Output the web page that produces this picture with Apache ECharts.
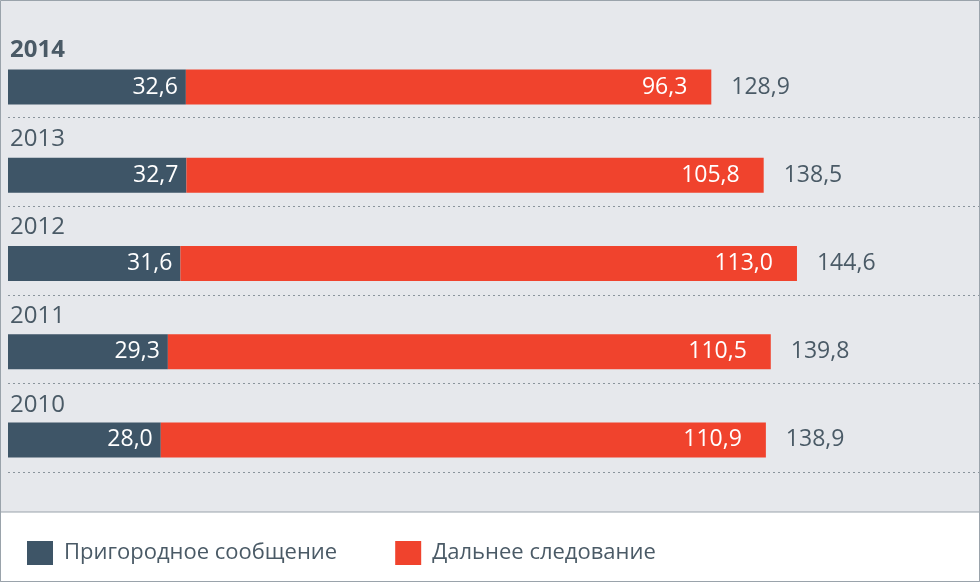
<!DOCTYPE html><html><head><meta charset="utf-8"><script src="https://cdn.jsdelivr.net/npm/echarts@6/dist/echarts.min.js"></script>
<style>html,body{margin:0;padding:0;}#c{width:980px;height:582px;}</style></head><body><div id="c"></div><script>
const years=['2014','2013','2012','2011','2010'];
const suburban=[32.6,32.7,31.6,29.3,28.0];
const longDist=[96.3,105.8,113.0,110.5,110.9];
const totals=[128.9,138.5,144.6,139.8,138.9];
const fmt=v=>v.toFixed(1).replace('.',',');
const font='"Open Sans", "Noto Sans", sans-serif';
const ch=echarts.init(document.getElementById('c'));
ch.setOption({
 backgroundColor:'#e6e8ec',
 animation:false,
 graphic:[
  {type:'rect',shape:{x:0,y:512,width:980,height:70},style:{fill:'#ffffff',stroke:'#9aa3ab',lineWidth:1},z:-1},
  {type:'rect',shape:{x:0.5,y:0.5,width:979,height:581},style:{fill:'none',stroke:'#9aa3ab',lineWidth:1},z:10}
 ],
 legend:{left:22,top:536,itemWidth:26,itemHeight:24,itemGap:58,icon:'rect',
  textStyle:{fontSize:22,color:'#4a5a66',fontFamily:font,padding:[0,0,0,6]},data:['Пригородное сообщение','Дальнее следование']},
 grid:[{left:8,right:99,top:43,bottom:98},{left:8,right:0,top:29,bottom:110}],
 xAxis:[{type:'value',gridIndex:0,min:0,max:160,show:false},{type:'value',gridIndex:1,min:0,max:1,show:false}],
 yAxis:[
  {type:'category',gridIndex:0,data:years,inverse:true,show:false},
  {type:'category',gridIndex:1,data:years,inverse:true,axisLine:{show:false},axisTick:{show:false},
   axisLabel:{inside:true,margin:2,padding:[0,0,46,0],fontSize:24,color:'#4a5a66',fontFamily:font,
    formatter:v=>v==='2014'?'{b|'+v+'}':v,rich:{b:{fontWeight:'bold',fontSize:24,color:'#4a5a66',fontFamily:font}}},
   splitLine:{show:true,interval:(i)=>i!==0,lineStyle:{type:[2,3],color:'#8a949c',width:1}}}
 ],
 series:[
  {name:'Пригородное сообщение',type:'bar',stack:'s',barWidth:35,data:suburban,itemStyle:{color:'#3e5567'},
   label:{show:true,position:'insideRight',color:'#fff',fontSize:23,fontFamily:font,distance:8,formatter:p=>fmt(p.value)}},
  {name:'Дальнее следование',type:'bar',stack:'s',barWidth:35,data:longDist,itemStyle:{color:'#f0432d'},
   label:{show:true,position:'insideRight',color:'#fff',fontSize:23,fontFamily:font,distance:24,formatter:p=>fmt(p.value)}},
  {name:'total',type:'bar',stack:'s',barWidth:35,data:totals.map(()=>0),itemStyle:{color:'transparent'},
   label:{show:true,position:'right',color:'#4a5a66',fontSize:23,fontFamily:font,distance:20,formatter:p=>fmt(totals[p.dataIndex])}}
 ]
});
</script></body></html>
